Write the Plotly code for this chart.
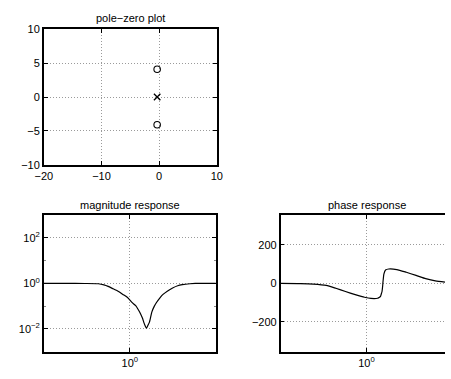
import plotly.graph_objects as go

W, H = 451, 379

# pole-zero data
zeros_re = [-0.35, -0.35]
zeros_im = [4.1, -4.1]
poles_re = [-0.35]
poles_im = [0.0]

# magnitude response
mag_freq = [0.1, 0.18, 0.30, 0.43, 0.50, 0.56, 0.64, 0.73, 0.83, 0.94, 1.05, 1.17, 1.26, 1.33, 1.40,
            1.45, 1.51, 1.56, 1.61, 1.69, 1.80, 1.92, 2.04, 2.25, 2.43, 2.75, 3.14, 3.6, 4.07, 5.0, 5.75, 7.5, 10]
mag_val = [1.0, 1.0, 0.995, 0.968, 0.87, 0.745, 0.58, 0.457, 0.33, 0.24, 0.15, 0.105, 0.068, 0.047, 0.030,
           0.020, 0.0135, 0.0107, 0.0135, 0.020, 0.055, 0.098, 0.145, 0.24, 0.33, 0.47, 0.63, 0.79, 0.88, 0.97, 1.0, 1.0, 1.0]

# phase response
ph_freq = [0.1, 0.17, 0.24, 0.34, 0.44, 0.57, 0.74, 0.95, 1.13, 1.35, 1.42, 1.46, 1.49, 1.52, 1.545, 1.56,
           1.60, 1.67, 1.82, 2.26, 2.92, 3.79, 4.91, 6.36, 8.24]
ph_val = [0, -1, -3.3, -10, -25, -42, -58, -72, -78, -77, -72, -67, -55, -42, -15, 8,
          50, 70, 75, 72, 58, 42, 25, 13, 7]

font = dict(family="Liberation Sans, Arial, Helvetica, sans-serif", size=11, color="black")

fig = go.Figure()
fig.add_trace(go.Scatter(x=zeros_re, y=zeros_im, mode="markers", xaxis="x", yaxis="y",
                         marker=dict(symbol="circle-open", size=6.5, color="black", line=dict(width=1.1))))
fig.add_trace(go.Scatter(x=poles_re, y=poles_im, mode="markers", xaxis="x", yaxis="y",
                         marker=dict(symbol="x-thin-open", size=6.5, color="black", line=dict(width=1.3))))
fig.add_trace(go.Scatter(x=mag_freq, y=mag_val, mode="lines", xaxis="x2", yaxis="y2",
                         line=dict(color="black", width=1.2, shape="spline", smoothing=0.6)))
fig.add_trace(go.Scatter(x=ph_freq, y=ph_val, mode="lines", xaxis="x3", yaxis="y3",
                         line=dict(color="black", width=1.2, shape="spline", smoothing=0.6)))

ax_common = dict(showline=True, linecolor="black", linewidth=1.5, ticks="inside", ticklen=4,
                 tickcolor="black", showgrid=True, gridcolor="#9a9a9a", griddash="1px,2px", gridwidth=1,
                 zeroline=False, tickfont=font)

minor_log = dict(ticks="inside", ticklen=2, tickcolor="#888", showgrid=False)

def px_x(a, b):
    return [a / W, b / W]

def px_y(top, bot):
    return [1 - bot / H, 1 - top / H]

fig.update_layout(
    width=W, height=H, margin=dict(l=0, r=0, t=0, b=0),
    paper_bgcolor="white", plot_bgcolor="white", showlegend=False, font=font,
    xaxis=dict(ax_common, domain=px_x(36, 215), range=[-20, 10], tickvals=[-20, -10, 0, 10],
               anchor="y", mirror="allticks"),
    yaxis=dict(ax_common, domain=px_y(24, 164), range=[-10, 10], tickvals=[-10, -5, 0, 5, 10],
               anchor="x", mirror="allticks"),
    xaxis2=dict(ax_common, type="log", domain=px_x(36, 214), range=[-1, 1], tickvals=[1],
                ticktext=["10<sup>0</sup>"], anchor="y2", mirror="allticks"),
    yaxis2=dict(ax_common, type="log", domain=px_y(216, 357), range=[-3, 3],
                tickvals=[0.01, 1, 100], ticktext=["10<sup>\u22122</sup>", "10<sup>0</sup>", "10<sup>2</sup>"],
                anchor="x2", mirror="allticks",
                minor=dict(minor_log, tickmode="array", tickvals=[0.1, 10])),
    xaxis3=dict(ax_common, type="log", domain=px_x(281, 451), range=[-1, 0.916], tickvals=[1],
                ticktext=["10<sup>0</sup>"], anchor="y3", mirror="allticks"),
    yaxis3=dict(ax_common, domain=px_y(216, 357), range=[-355, 355], tickvals=[-200, 0, 200],
                anchor="x3", mirror=False),
    annotations=[
        dict(text="pole\u2212zero plot", x=(36 + 215) / 2 / W, y=1 - 12 / H, xref="paper", yref="paper",
             showarrow=False, xanchor="center", yanchor="middle", font=font),
        dict(text="magnitude response", x=(36 + 214) / 2 / W, y=1 - 205 / H, xref="paper", yref="paper",
             showarrow=False, xanchor="center", yanchor="middle", font=font),
        dict(text="phase response", x=370 / W, y=1 - 205 / H, xref="paper", yref="paper",
             showarrow=False, xanchor="center", yanchor="middle", font=font),
    ],
)

fig.write_html("out.html")
